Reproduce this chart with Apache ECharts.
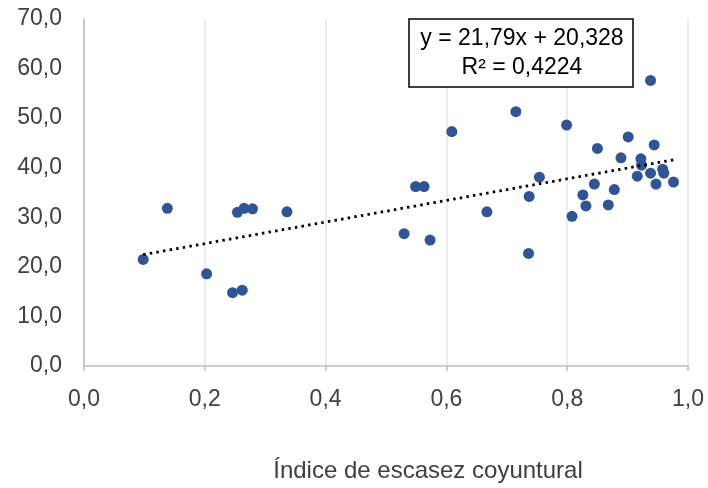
<!DOCTYPE html>
<html>
<head>
<meta charset="utf-8">
<script src="https://cdn.jsdelivr.net/npm/echarts@6/dist/echarts.min.js"></script>
<style>html,body{margin:0;padding:0;background:#fff;}#c{width:708px;height:488px;}</style>
</head>
<body>
<div id="c"></div>
<script>
// Data
const xValues = [0.138, 0.098, 0.203, 0.246, 0.262, 0.254, 0.265, 0.279, 0.336,
  0.938, 0.715, 0.609, 0.799, 0.901, 0.850, 0.944, 0.889, 0.922, 0.923,
  0.958, 0.960, 0.938, 0.916, 0.754, 0.947, 0.976, 0.845, 0.878, 0.549,
  0.563, 0.737, 0.826, 0.831, 0.868, 0.808, 0.667, 0.530, 0.573, 0.736];
const yValues = [31.8, 21.5, 18.6, 14.8, 15.3, 31.0, 31.8, 31.7, 31.1,
  57.6, 51.3, 47.3, 48.6, 46.2, 43.9, 44.6, 42.0, 41.8, 40.5,
  39.7, 38.9, 38.9, 38.3, 38.1, 36.7, 37.1, 36.7, 35.6, 36.2,
  36.2, 34.2, 34.5, 32.3, 32.5, 30.2, 31.1, 26.7, 25.4, 22.7];
const slope = 21.79;
const intercept = 20.328;
const equationText = 'y = 21,79x + 20,328';
const r2Text = 'R² = 0,4224';
const xTicks = [0, 0.2, 0.4, 0.6, 0.8, 1.0];
const yTicks = [0, 10, 20, 30, 40, 50, 60, 70];
const xTitle = 'Índice de escasez coyuntural';

const points = xValues.map((x, i) => [x, yValues[i]]);
const xMin = Math.min(...xValues), xMax = Math.max(...xValues);
const trend = [[xMin, slope * xMin + intercept], [xMax, slope * xMax + intercept]];
const fmt = v => v.toFixed(1).replace('.', ',');
const font = '"Liberation Sans", Arial, sans-serif';
const txtColor = '#404040';

const chart = echarts.init(document.getElementById('c'), null, {renderer: 'canvas'});
chart.setOption({
  animation: false,
  grid: {left: 84, right: 20, top: 19, bottom: 122},
  xAxis: {
    type: 'value', min: xTicks[0], max: xTicks[xTicks.length - 1], interval: 0.2,
    axisLine: {show: true, onZero: false, lineStyle: {color: '#bfbfbf', width: 1.5}},
    axisTick: {show: true, length: 5, lineStyle: {color: '#bfbfbf', width: 1.5}},
    splitLine: {show: true, lineStyle: {color: '#e6e6e6', width: 1.5}},
    axisLabel: {formatter: fmt, color: txtColor, fontSize: 23, fontFamily: font, margin: 22},
    name: xTitle, nameLocation: 'middle', nameGap: 93,
    nameTextStyle: {color: txtColor, fontSize: 24, fontFamily: font, padding: [0, 0, 0, 84]}
  },
  yAxis: {
    type: 'value', min: yTicks[0], max: yTicks[yTicks.length - 1], interval: 10,
    axisLine: {show: true, lineStyle: {color: '#bfbfbf', width: 1.5}},
    axisTick: {show: false},
    splitLine: {show: false},
    axisLabel: {formatter: fmt, color: txtColor, fontSize: 23, fontFamily: font, margin: 22}
  },
  series: [
    {
      type: 'scatter', data: points, symbolSize: 11,
      itemStyle: {color: '#2F5597', opacity: 1}, z: 3
    },
    {
      type: 'line', data: trend, symbol: 'none', silent: true, z: 4,
      lineStyle: {color: '#000', width: 2.8, type: [2.5, 4.2]}
    }
  ],
  graphic: [
    {
      type: 'rect', x: 409, y: 19,
      shape: {width: 224, height: 68},
      style: {fill: '#fff', stroke: '#000', lineWidth: 1.5}, z: 10
    },
    {
      type: 'text', x: 522, y: 39, z: 11,
      style: {text: equationText, fill: '#000', fontSize: 23, fontFamily: font,
        align: 'center', verticalAlign: 'middle'}
    },
    {
      type: 'text', x: 522, y: 68, z: 11,
      style: {text: r2Text, fill: '#000', fontSize: 23, fontFamily: font,
        align: 'center', verticalAlign: 'middle'}
    }
  ]
});
</script>
</body>
</html>
